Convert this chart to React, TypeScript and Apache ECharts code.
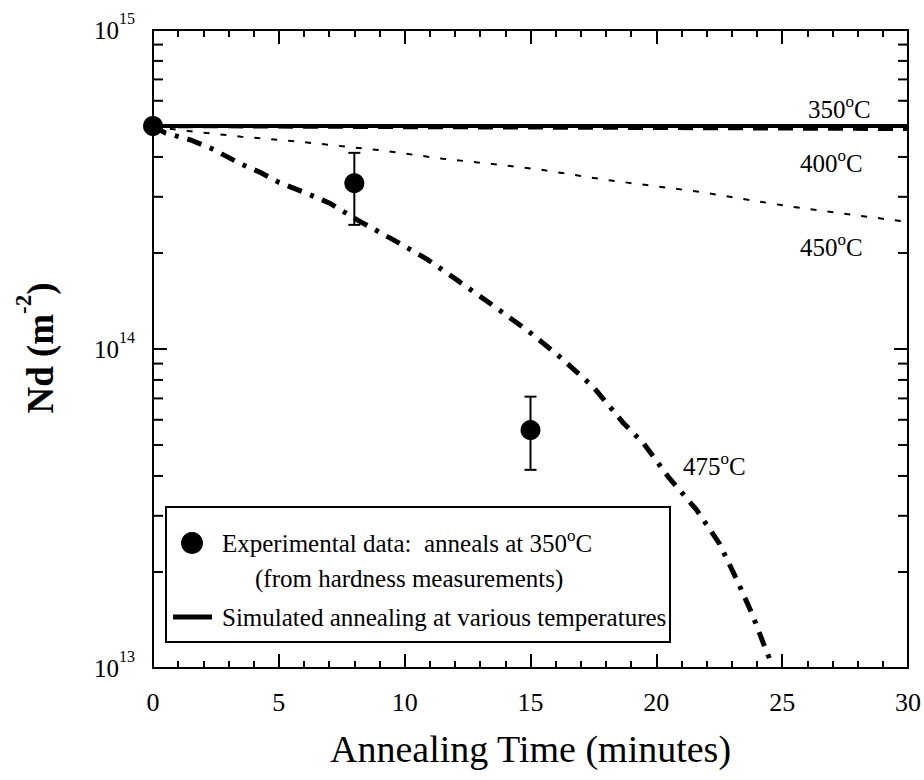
import React, { useEffect, useRef } from 'react';
import * as echarts from 'echarts';

// ---------- data ----------
const t350 = [0, 30];
const n350 = [5.0e14, 5.0e14];

const t400 = [0, 10, 20, 30];
const n400 = [5.0e14, 4.96e14, 4.93e14, 4.89e14];

const t450 = [0, 1, 3.5, 6, 9, 11.5, 13.5, 15.5, 18, 21.7, 25.4, 30];
const n450 = [5.0e14, 4.86e14, 4.63e14, 4.45e14, 4.2e14, 3.95e14, 3.8e14, 3.64e14, 3.39e14, 3.11e14, 2.79e14, 2.5e14];

const t475 = [0, 0.5, 1.5, 2.3, 3.5, 4.25, 5, 6, 7, 8.15, 9.5, 10.9, 12.2, 13.5, 14.9, 16.2, 17.5, 18.7, 19.5, 20.5, 21.6, 22.5, 23.2, 23.8, 24.3, 24.5];
const n475 = [5.0e14, 4.75e14, 4.52e14, 4.26e14, 3.8e14, 3.58e14, 3.33e14, 3.1e14, 2.87e14, 2.53e14, 2.21e14, 1.91e14, 1.62e14, 1.37e14, 1.14e14, 9.4e13, 7.6e13, 5.85e13, 5.05e13, 3.95e13, 3.13e13, 2.46e13, 1.89e13, 1.48e13, 1.17e13, 1.07e13];

const expTime = [0, 8, 15];
const expNd = [5.0e14, 3.31e14, 5.57e13];
const errTime = [8, 15];
const errLow = [2.45e14, 4.18e13];
const errHigh = [4.12e14, 7.09e13];

const minorYTicks = [2e13, 3e13, 4e13, 5e13, 6e13, 7e13, 8e13, 9e13, 2e14, 3e14, 4e14, 5e14, 6e14, 7e14, 8e14, 9e14];

const tempLabels = ['350', '400', '450', '475'];
const legendText1 = 'Experimental data:  anneals at 350';
const legendText2 = '(from hardness measurements)';
const legendText3 = 'Simulated annealing at various temperatures';
const xTitle = 'Annealing Time (minutes)';

const FONT = "'Liberation Serif', 'Times New Roman', serif";

const pairs = (xs: number[], ys: number[]) => xs.map((x, i) => [x, ys[i]]);

const degRich = {
  n: { fontFamily: FONT, fontSize: 25, color: '#000', verticalAlign: 'bottom' },
  s: { fontFamily: FONT, fontSize: 17, color: '#000', verticalAlign: 'top', padding: [0, 0, 12, 0] },
};

export default function App() {
  const ref = useRef<HTMLDivElement>(null);
  useEffect(() => {
    document.body.style.margin = '0';
    if (!ref.current) return;
    const chart = echarts.init(ref.current, undefined, { renderer: 'svg' });

    const axisLineStyle = { color: '#000', width: 2 };
    const tickStyle = { color: '#000', width: 2 };

    const tempPos = [
      [808, 107],
      [800, 161],
      [800, 245],
      [683, 464],
    ];

    const option: any = {
      animation: false,
      backgroundColor: '#fff',
      grid: { left: 153, right: 15, top: 30, bottom: 112, containLabel: false },
      xAxis: [
        {
          type: 'value', min: 0, max: 30, interval: 5, position: 'bottom',
          axisLine: { show: true, onZero: false, lineStyle: axisLineStyle },
          axisTick: { show: true, inside: true, length: 14, lineStyle: tickStyle },
          minorTick: { show: true, splitNumber: 5, length: 7, lineStyle: tickStyle },
          splitLine: { show: false }, minorSplitLine: { show: false },
          axisLabel: { color: '#000', fontFamily: FONT, fontSize: 26, margin: 21 },
          name: xTitle, nameLocation: 'middle', nameGap: 62,
          nameTextStyle: { fontFamily: FONT, fontSize: 38, color: '#000' },
        },
        {
          type: 'value', min: 0, max: 30, interval: 5, position: 'top',
          axisLine: { show: true, onZero: false, lineStyle: axisLineStyle },
          axisTick: { show: true, inside: true, length: 14, lineStyle: tickStyle },
          minorTick: { show: true, splitNumber: 5, length: 7, lineStyle: tickStyle },
          splitLine: { show: false }, minorSplitLine: { show: false },
          axisLabel: { show: false },
        },
      ],
      yAxis: [
        {
          type: 'log', logBase: 10, min: 1e13, max: 1e15, position: 'left',
          axisLine: { show: true, onZero: false, lineStyle: axisLineStyle },
          axisTick: { show: true, inside: true, length: 14, lineStyle: tickStyle },
          splitLine: { show: false },
          axisLabel: {
            margin: 18,
            padding: [0, 0, 7, 0],
            formatter: (v: number) => `{n|10}{s|${Math.round(Math.log10(v))}}`,
            rich: {
              n: { fontFamily: FONT, fontSize: 25, color: '#000', verticalAlign: 'bottom' },
              s: { fontFamily: FONT, fontSize: 16, color: '#000', verticalAlign: 'top', padding: [0, 0, 16, 0] },
            },
          },
        },
        {
          type: 'log', logBase: 10, min: 1e13, max: 1e15, position: 'right',
          axisLine: { show: true, onZero: false, lineStyle: axisLineStyle },
          axisTick: { show: true, inside: true, length: 14, lineStyle: tickStyle },
          splitLine: { show: false },
          axisLabel: { show: false },
        },
      ],
      series: [
        {
          name: '400°C', type: 'line', data: pairs(t400, n400), showSymbol: false, symbol: 'none',
          lineStyle: { color: '#000', width: 4, type: [15, 10] }, z: 2,
        },
        {
          name: '350°C', type: 'line', data: pairs(t350, n350), showSymbol: false, symbol: 'none',
          lineStyle: { color: '#000', width: 4, type: 'solid' }, z: 3,
        },
        {
          name: '450°C', type: 'line', data: pairs(t450, n450), showSymbol: false, symbol: 'none',
          lineStyle: { color: '#000', width: 2, type: [6, 11] }, z: 3,
        },
        {
          name: '475°C', type: 'line', data: pairs(t475, n475), showSymbol: false, symbol: 'none',
          lineStyle: { color: '#000', width: 5, type: [15, 9, 4, 9], cap: 'butt' }, z: 3,
        },
        {
          name: 'minorTicks', type: 'custom', silent: true, clip: false, z: 4,
          data: minorYTicks.map((v) => [0, v]),
          encode: { x: 0, y: 1 },
          renderItem: (params: any, api: any) => {
            const v = api.value(1);
            const p = api.coord([0, v]);
            const cs = params.coordSys;
            return {
              type: 'group',
              children: [
                { type: 'line', shape: { x1: cs.x, y1: p[1], x2: cs.x + 10, y2: p[1] }, style: { stroke: '#000', lineWidth: 2 } },
                { type: 'line', shape: { x1: cs.x + cs.width, y1: p[1], x2: cs.x + cs.width - 10, y2: p[1] }, style: { stroke: '#000', lineWidth: 2 } },
              ],
            };
          },
        },
        {
          name: 'errorBars', type: 'custom', silent: true, clip: false, z: 5,
          data: errTime.map((t, i) => [t, errLow[i], errHigh[i]]),
          encode: { x: 0, y: [1, 2] },
          renderItem: (params: any, api: any) => {
            const x = api.value(0);
            const lo = api.coord([x, api.value(1)]);
            const hi = api.coord([x, api.value(2)]);
            const w = 6;
            const st = { stroke: '#000', lineWidth: 2 };
            return {
              type: 'group',
              children: [
                { type: 'line', shape: { x1: lo[0], y1: lo[1], x2: hi[0], y2: hi[1] }, style: st },
                { type: 'line', shape: { x1: lo[0] - w, y1: lo[1], x2: lo[0] + w, y2: lo[1] }, style: st },
                { type: 'line', shape: { x1: hi[0] - w, y1: hi[1], x2: hi[0] + w, y2: hi[1] }, style: st },
              ],
            };
          },
        },
        {
          name: 'Experimental data', type: 'scatter', data: pairs(expTime, expNd),
          symbol: 'circle', symbolSize: 20, itemStyle: { color: '#000', opacity: 1 }, clip: false, z: 6,
        },
      ],
      graphic: [
        ...tempLabels.map((t, i) => ({
          type: 'text', x: tempPos[i][0], y: tempPos[i][1], z: 10,
          style: {
            text: `{n|${t}}{s|o}{n|C}`, rich: degRich, align: 'left', verticalAlign: 'middle', fill: '#000',
          },
        })),
        {
          type: 'text', x: 35, y: 348, rotation: Math.PI / 2, z: 10,
          style: {
            text: '{n|Nd (m}{s|-2}{n|)}', align: 'center', verticalAlign: 'middle', fill: '#000',
            rich: {
              n: { fontFamily: FONT, fontSize: 37, fontWeight: 'bold', color: '#000', verticalAlign: 'bottom' },
              s: { fontFamily: FONT, fontSize: 23, fontWeight: 'bold', color: '#000', verticalAlign: 'top', padding: [0, 0, 24, 0] },
            },
          },
        },
        {
          type: 'rect', z: 10,
          shape: { x: 166, y: 507, width: 504, height: 135 },
          style: { fill: '#fff', stroke: '#000', lineWidth: 2 },
        },
        { type: 'circle', z: 11, shape: { cx: 192, cy: 543, r: 11 }, style: { fill: '#000' } },
        {
          type: 'text', x: 222, y: 541, z: 11,
          style: {
            text: `{m|${legendText1}}{s|o}{m|C}`, align: 'left', verticalAlign: 'middle', fill: '#000',
            rich: {
              m: { fontFamily: FONT, fontSize: 25, color: '#000', verticalAlign: 'bottom' },
              s: { fontFamily: FONT, fontSize: 17, color: '#000', verticalAlign: 'top', padding: [0, 0, 12, 0] },
            },
          },
        },
        {
          type: 'text', x: 255, y: 578, z: 11,
          style: { text: legendText2, fontFamily: FONT, fontSize: 25, fill: '#000', align: 'left', verticalAlign: 'middle' },
        },
        { type: 'line', z: 11, shape: { x1: 173, y1: 617, x2: 212, y2: 617 }, style: { stroke: '#000', lineWidth: 5 } },
        {
          type: 'text', x: 222, y: 617, z: 11,
          style: { text: legendText3, fontFamily: FONT, fontSize: 25, fill: '#000', align: 'left', verticalAlign: 'middle' },
        },
      ],
    };

    chart.setOption(option);
    return () => chart.dispose();
  }, []);

  return <div ref={ref} style={{ width: 924, height: 780 }} />;
}
